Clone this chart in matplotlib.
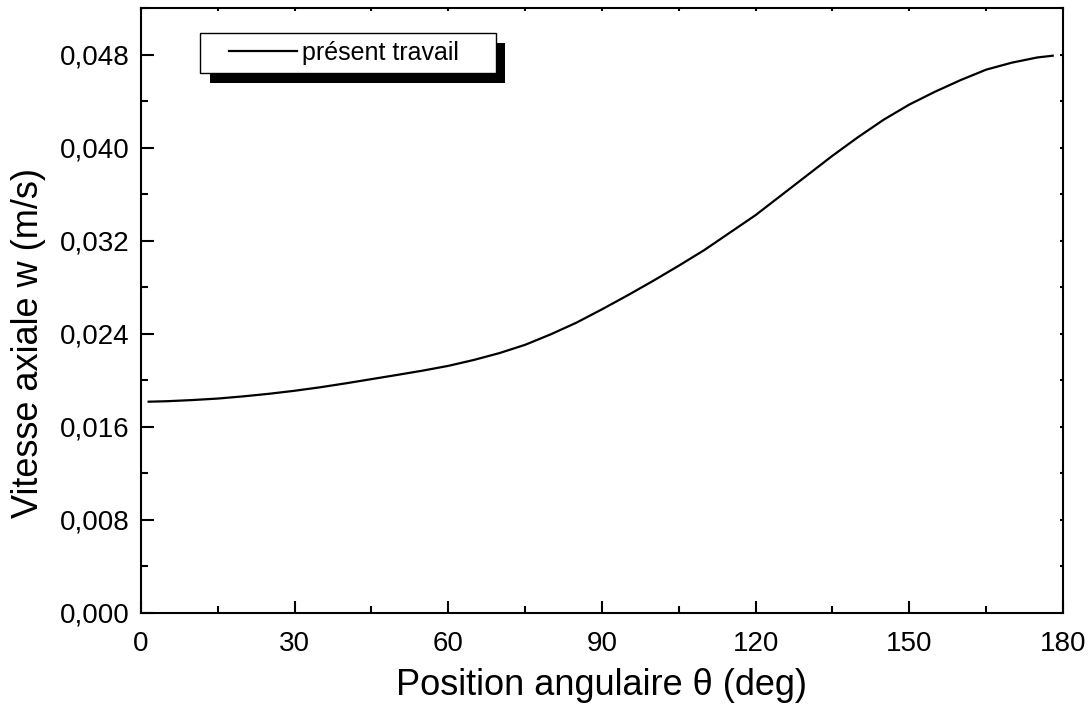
import matplotlib

matplotlib.use("Agg")
import matplotlib.pyplot as plt
from matplotlib.patches import Rectangle
from matplotlib.ticker import FuncFormatter, MultipleLocator

# axial velocity along the angular position
theta_deg = [1.5, 5, 10, 15, 20, 25, 30, 35, 40, 45, 50, 55, 60, 65, 70,
             75, 80, 85, 90, 95, 100, 105, 110, 115, 120, 125, 130, 135,
             140, 145, 150, 155, 160, 165, 170, 175, 178]
w_axial = [0.01816, 0.0182, 0.0183, 0.01843, 0.01862, 0.01884, 0.0191,
           0.0194, 0.01974, 0.0201, 0.02046, 0.02083, 0.02124, 0.02175,
           0.02234, 0.02305, 0.02395, 0.02495, 0.0261, 0.0273, 0.02855,
           0.02985, 0.0312, 0.0327, 0.0342, 0.0359, 0.0376, 0.0393, 0.0409,
           0.0424, 0.0437, 0.0448, 0.0458, 0.0467, 0.0473, 0.04775, 0.0479]
series_label = "présent travail"

plt.rcParams["font.family"] = ["Liberation Sans", "DejaVu Sans"]

fig = plt.figure(figsize=(10.91, 7.15), dpi=100)
ax = fig.add_axes([0.1292, 0.1427, 0.8451, 0.8461])

ax.plot(theta_deg, w_axial, color="black", lw=1.6, label=series_label)

ax.set_xlim(0, 180)
ax.set_ylim(0, 0.052)
ax.xaxis.set_major_locator(MultipleLocator(30))
ax.xaxis.set_minor_locator(MultipleLocator(15))
ax.yaxis.set_major_locator(MultipleLocator(0.008))
ax.yaxis.set_minor_locator(MultipleLocator(0.004))
ax.yaxis.set_major_formatter(FuncFormatter(lambda v, _: f"{v:.3f}".replace(".", ",")))

for side in ax.spines.values():
    side.set_linewidth(1.5)
ax.tick_params(which="both", direction="in", width=1.5, labelsize=20)
ax.tick_params(which="major", bottom=True, left=True, length=9)
ax.tick_params(which="minor", bottom=True, left=True, length=5)
ax.tick_params(which="both", top=True, right=True)
ax.tick_params(axis="x", pad=13)
ax.tick_params(axis="y", pad=8)
# short marks on the opposite sides
for t in ax.xaxis.get_major_ticks() + ax.xaxis.get_minor_ticks():
    t.tick2line.set_markersize(2.5)
for t in ax.yaxis.get_major_ticks() + ax.yaxis.get_minor_ticks():
    t.tick2line.set_markersize(2.5)

ax.set_xlabel("Position angulaire θ (deg)", fontsize=26, labelpad=8)
ax.set_ylabel("Vitesse axiale w (m/s)", fontsize=26)
ax.yaxis.set_label_coords(-0.103, 0.4455)

# boxed legend with a solid drop shadow
ax.add_patch(Rectangle((0.0748, 0.8760), 0.32, 0.0661, transform=ax.transAxes,
                       facecolor="black", edgecolor="none", zorder=6))
ax.add_patch(Rectangle((0.0640, 0.8926), 0.321, 0.0661, transform=ax.transAxes,
                       facecolor="white", edgecolor="black", lw=1.0, zorder=7))
leg = ax.legend(loc="center left", bbox_to_anchor=(0.0954, 0.9256),
                frameon=False, fontsize=18, handlelength=2.72,
                handletextpad=0.2, borderpad=0, borderaxespad=0)
leg.set_zorder(8)
for h in leg.get_lines():
    h.set_linewidth(1.6)

fig.savefig("out.png", dpi=100)
